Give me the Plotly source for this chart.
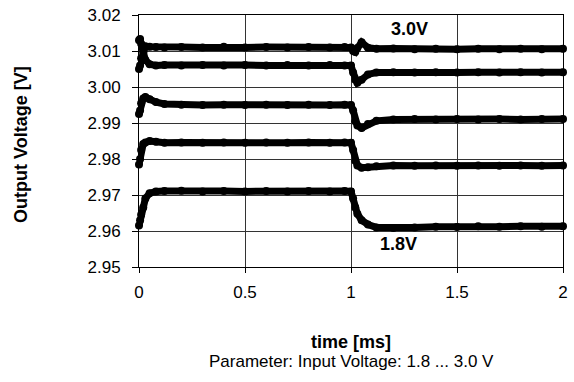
import plotly.graph_objects as go

time_ms = [0, 0.005, 0.01, 0.02, 0.03, 0.05, 0.08, 0.12, 0.2, 0.3, 0.4, 0.5, 0.6, 0.7, 0.8, 0.9, 0.97,
           1.0, 1.01, 1.02, 1.03, 1.05, 1.08, 1.12, 1.2, 1.3, 1.4, 1.5, 1.6, 1.7, 1.8, 1.9, 2.0]

v_a = [3.0050, 3.0060, 3.0080, 3.0105, 3.0113, 3.0112, 3.0111, 3.0110, 3.0111, 3.0110, 3.0112, 3.0110,
       3.0111, 3.0110, 3.0111, 3.0110, 3.0111,
       3.0110, 3.0100, 3.0097, 3.0108, 3.0124, 3.0109, 3.0106, 3.0107, 3.0105, 3.0106, 3.0105, 3.0106,
       3.0105, 3.0106, 3.0105, 3.0106]
v_b = [3.0130, 3.0133, 3.0120, 3.0095, 3.0075, 3.0063, 3.0060, 3.0061, 3.0060, 3.0061, 3.0060, 3.0061,
       3.0060, 3.0061, 3.0060, 3.0061, 3.0060,
       3.0060, 3.0040, 3.0020, 3.0012, 3.0020, 3.0035, 3.0040, 3.0041, 3.0040, 3.0041, 3.0040, 3.0041,
       3.0040, 3.0041, 3.0040, 3.0041]
v_c = [2.9925, 2.9935, 2.9955, 2.9968, 2.9972, 2.9966, 2.9958, 2.9953, 2.9951, 2.9950, 2.9951, 2.9950,
       2.9951, 2.9950, 2.9951, 2.9950, 2.9951,
       2.9950, 2.9935, 2.9905, 2.9893, 2.9886, 2.9897, 2.9906, 2.9910, 2.9911, 2.9910, 2.9911, 2.9910,
       2.9911, 2.9910, 2.9911, 2.9911]
v_d = [2.9785, 2.9800, 2.9825, 2.9842, 2.9846, 2.9850, 2.9848, 2.9845, 2.9846, 2.9845, 2.9846, 2.9845,
       2.9846, 2.9845, 2.9846, 2.9845, 2.9846,
       2.9845, 2.9825, 2.9795, 2.9782, 2.9776, 2.9777, 2.9780, 2.9782, 2.9781, 2.9782, 2.9781, 2.9782,
       2.9781, 2.9782, 2.9781, 2.9782]
v_e = [2.9615, 2.9630, 2.9645, 2.9665, 2.9690, 2.9705, 2.9710, 2.9711, 2.9712, 2.9710, 2.9711, 2.9710,
       2.9711, 2.9710, 2.9711, 2.9710, 2.9711,
       2.9710, 2.9690, 2.9665, 2.9648, 2.9630, 2.9618, 2.9610, 2.9608, 2.9610, 2.9612, 2.9611, 2.9613,
       2.9612, 2.9613, 2.9612, 2.9613]

series = [v_a, v_b, v_c, v_d, v_e]

x_ticks = [0, 0.5, 1, 1.5, 2]
x_tick_labels = ["0", "0.5", "1", "1.5", "2"]
y_ticks = [2.95, 2.96, 2.97, 2.98, 2.99, 3.00, 3.01, 3.02]
y_tick_labels = ["2.95", "2.96", "2.97", "2.98", "2.99", "3.00", "3.01", "3.02"]

FONT = "Liberation Sans, Arial, sans-serif"

fig = go.Figure()
for vals in series:
    fig.add_trace(go.Scatter(
        x=time_ms, y=vals, mode="lines+markers",
        line=dict(color="black", width=7),
        marker=dict(color="black", size=8),
        showlegend=False, hoverinfo="skip", cliponaxis=False,
    ))

fig.update_layout(
    width=574, height=382,
    margin=dict(l=139, r=6, t=15, b=115),
    paper_bgcolor="white", plot_bgcolor="white",
    font=dict(family=FONT, size=17, color="black"),
    xaxis=dict(range=[0, 2], tickvals=x_ticks, ticktext=x_tick_labels,
               showgrid=True, gridcolor="#333", gridwidth=1,
               showline=True, linecolor="black", linewidth=1, mirror=True,
               ticks="outside", ticklen=5, tickcolor="black", zeroline=False,
               ticklabelstandoff=5, ticklabeloverflow="allow", tickfont=dict(size=17)),
    yaxis=dict(range=[2.95, 3.02], tickvals=y_ticks, ticktext=y_tick_labels,
               showgrid=True, gridcolor="#333", gridwidth=1,
               showline=True, linecolor="black", linewidth=1, mirror=True,
               ticks="outside", ticklen=6, tickcolor="black", zeroline=False,
               ticklabelstandoff=8, tickfont=dict(size=17)),
    annotations=[
        dict(text="<b>3.0V</b>", x=1.274, y=3.0162, xref="x", yref="y",
             showarrow=False, font=dict(size=18, family=FONT)),
        dict(text="<b>1.8V</b>", x=1.225, y=2.9565, xref="x", yref="y",
             showarrow=False, font=dict(size=18, family=FONT)),
        dict(text="<b>time [ms]</b>", x=0.5, y=0, xref="paper", yref="paper",
             yanchor="middle", yshift=-75, showarrow=False, font=dict(size=18, family=FONT)),
        dict(text="Parameter: Input Voltage: 1.8 ... 3.0 V", x=0.5, y=0, xref="paper", yref="paper",
             yanchor="middle", yshift=-94, showarrow=False, font=dict(size=17, family=FONT)),
        dict(text="<b>Output Voltage [V]</b>", x=0, y=0.5, xref="paper", yref="paper",
             xanchor="center", yanchor="middle", xshift=-118, yshift=-4, textangle=-90,
             showarrow=False, font=dict(size=18, family=FONT)),
    ],
)

fig.write_html("out.html", config={"displayModeBar": False},
               post_script="document.body.style.margin='0';document.body.style.overflow='hidden';")
